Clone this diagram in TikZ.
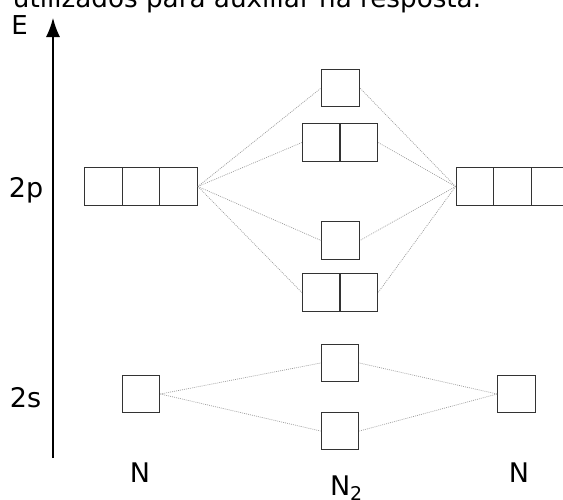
\documentclass[tikz,border=0pt]{standalone}
\usepackage{fontspec}
\setmainfont{DejaVu Sans}
\usetikzlibrary{arrows.meta,calc}
\definecolor{boxgray}{HTML}{333333}
\definecolor{dotgray}{HTML}{9A9A9A}
\newcommand\labsize{\fontsize{27}{32}\selectfont}
\newcommand\esize{\fontsize{26}{31}\selectfont}
\newcommand\topsize{\fontsize{26.2}{31}\selectfont}
\begin{document}
\begin{tikzpicture}[x=1pt,y=-1pt,
  box/.style={draw=boxgray, line width=1.3pt, minimum height=37.5pt, minimum width=37.5pt, inner sep=0pt},
  div/.style={boxgray, line width=1.3pt},
  two/.style={box, minimum width=75pt,
    path picture={\draw[div] (path picture bounding box.south) -- (path picture bounding box.north);}},
  three/.style={box, minimum width=112.5pt,
    path picture={
      \draw[div] ($(path picture bounding box.south west)!1/3!(path picture bounding box.south east)$) -- ($(path picture bounding box.north west)!1/3!(path picture bounding box.north east)$);
      \draw[div] ($(path picture bounding box.south west)!2/3!(path picture bounding box.south east)$) -- ($(path picture bounding box.north west)!2/3!(path picture bounding box.north east)$);}},
  link/.style={dotgray, line width=0.7pt, dash pattern=on 0.9pt off 1.1pt},
  lbl/.style={inner sep=0pt, outer sep=0pt},
  axis/.style={black, line width=1.3pt, -{Latex[length=19pt,width=14pt]}}
]
\useasboundingbox (0,0) rectangle (563,499);

% top partial text
\node[lbl, anchor=base east] (top) at (481,7.5) {\topsize r utilizados para auxiliar na resposta.};

% axis
\coordinate (axb) at (53,458);
\coordinate (axt) at (53,18);
\draw[axis] (axb) -- (axt);
\node[lbl, anchor=base west] (E) at (11.5,34) {\esize E};
\node[lbl, anchor=base] (l2p) at (26,197) {\labsize 2p};
\node[lbl, anchor=base] (l2s) at (25.5,407) {\labsize 2s};

% boxes
\node[three] (L2p) at (141,186.5) {};
\node[three] (R2p) at (512.5,186.5) {};
\node[box] (Mt) at (340.5,88) {};
\node[two] (Mu) at (340,142.5) {};
\node[box] (Ml) at (340.5,240.5) {};
\node[two] (Mb) at (340,292.5) {};
\node[box] (L2s) at (141,394) {};
\node[box] (Msu) at (340,363) {};
\node[box] (Msl) at (340,431) {};
\node[box] (R2s) at (516.5,394) {};

% links
\foreach \m in {Mt,Mu,Ml,Mb}{
  \draw[link] (L2p.east) -- (\m.west);
  \draw[link] (R2p.west) -- (\m.east);
}
\foreach \m in {Msu,Msl}{
  \draw[link] (L2s.east) -- (\m.west);
  \draw[link] (R2s.west) -- (\m.east);
}

% bottom labels
\node[lbl, anchor=base] (nL) at (140,482) {\labsize N};
\node[lbl, anchor=base] (nR) at (519,482) {\labsize N};
\node[lbl, anchor=base west] (n2) at (330,495) {\labsize N\textsubscript{2}};
\end{tikzpicture}
\end{document}
